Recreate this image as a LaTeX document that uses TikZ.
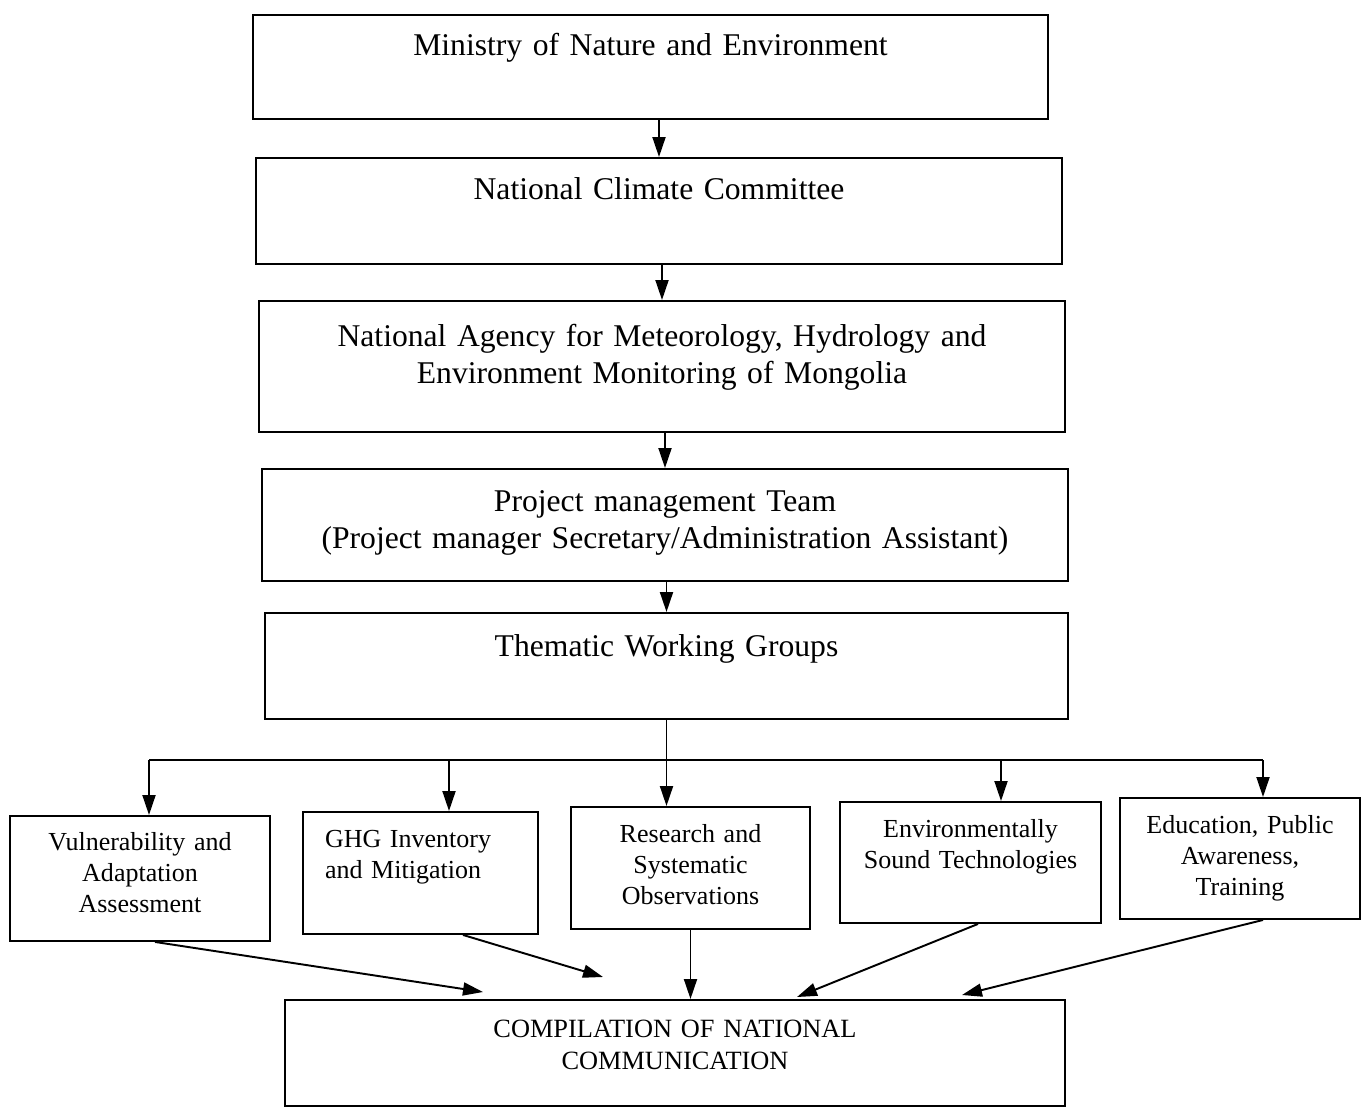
\documentclass[tikz,border=0pt]{standalone}
\usepackage{fontspec}
\setmainfont{Liberation Serif}
\usetikzlibrary{arrows.meta}
\tikzset{
  orgbox/.style={draw, line width=1.1pt, inner xsep=0pt, inner ysep=0pt,
                 align=center, anchor=north, font=\fontsize{18}{20.8}\selectfont},
  groupbox/.style={orgbox, font=\fontsize{14.8}{17.6}\selectfont},
  compbox/.style={orgbox, font=\fontsize{15}{18.2}\selectfont},
}

\begin{document}
\begin{tikzpicture}[>={Triangle[length=0.4cm,width=0.26cm]}, line width=1.1pt]
    \useasboundingbox (0,0) rectangle (27.34,-22.14);
    % chain of command
    \node[orgbox, text width=15.9cm, text height=0.82cm, text depth=1.26cm] (mne) at (13.01,-0.28) {Ministry of Nature and Environment};
    \node[orgbox, text width=16.12cm, text height=0.84cm, text depth=1.28cm] (ncc) at (13.18,-3.14) {National Climate Committee};
    \node[orgbox, text width=16.12cm, text height=0.92cm, text depth=1.7cm] (namhem) at (13.24,-6.0) {National Agency for Meteorology, Hydrology and\\Environment Monitoring of Mongolia};
    \node[orgbox, text width=16.12cm, text height=0.86cm, text depth=1.38cm] (pmt) at (13.3,-9.36) {Project management Team\\(Project manager Secretary/Administration Assistant)};
    \node[orgbox, text width=16.06cm, text height=0.88cm, text depth=1.24cm] (twg) at (13.33,-12.24) {Thematic Working Groups};
    \foreach \a/\b in {mne/ncc, ncc/namhem, namhem/pmt, pmt/twg}
      \draw[->] (\a.south -| \b.north) -- (\b.north);
    % working groups
    \node[groupbox, text width=5.2cm, text height=0.7cm, text depth=1.8cm] (vaa) at (2.8,-16.3) {Vulnerability and\\Adaptation\\Assessment};
    \node[groupbox, align=left, inner xsep=0.44cm, text width=3.82cm, text height=0.72cm, text depth=1.72cm] (ghg) at (8.41,-16.22) {GHG Inventory\\and Mitigation};
    \node[groupbox, text width=4.78cm, text height=0.72cm, text depth=1.72cm] (rso) at (13.81,-16.12) {Research and\\Systematic\\Observations};
    \node[groupbox, text width=5.22cm, text height=0.72cm, text depth=1.7cm] (est) at (19.41,-16.02) {Environmentally\\Sound Technologies};
    \node[groupbox, text width=4.8cm, text height=0.72cm, text depth=1.7cm] (epa) at (24.8,-15.94) {Education, Public\\Awareness,\\Training};
    \coordinate (busl) at (2.98,-15.2);
    \coordinate (busr) at (25.26,-15.2);
    \draw[->] (twg.south) -- (twg.south |- rso.north);
    \draw (busl) -- (busr);
    \draw[->] (busl) -- (busl |- vaa.north);
    \draw[->] (busr) -- (busr |- epa.north);
    \foreach \n/\dx in {ghg/0.57, est/0.61}
      \draw[->] ([xshift=\dx cm]\n.north |- busl) -- ([xshift=\dx cm]\n.north);
    % compilation
    \node[compbox, text width=15.6cm, text height=0.76cm, text depth=1.36cm] (cnc) at (13.5,-19.98) {COMPILATION OF NATIONAL\\COMMUNICATION};
    \draw[->] ([xshift=0.3cm]vaa.south) -- ([shift={(-3.84,0.14)}]cnc.north);
    \draw[->] ([xshift=0.85cm]ghg.south) -- ([shift={(-1.44,0.44)}]cnc.north);
    \draw[->] (rso.south) -- (rso.south |- cnc.north);
    \draw[->] ([xshift=0.15cm]est.south) -- ([shift={(2.44,0.04)}]cnc.north);
    \draw[->] ([xshift=0.46cm]epa.south) -- ([shift={(5.74,0.08)}]cnc.north);
  \end{tikzpicture}
\end{document}
